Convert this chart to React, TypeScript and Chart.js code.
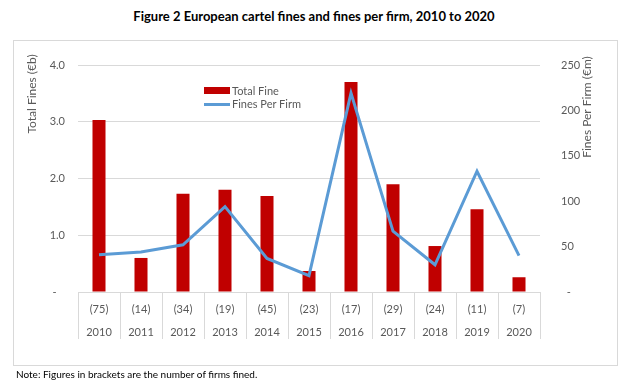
import React, { useEffect, useRef } from "react";
import { Chart, registerables } from "chart.js";

Chart.register(...registerables);

const years = ["2010", "2011", "2012", "2013", "2014", "2015", "2016", "2017", "2018", "2019", "2020"];
const firmsFined = [75, 14, 34, 19, 45, 23, 17, 29, 24, 11, 7];
const totalFines = [3.03, 0.6, 1.73, 1.8, 1.69, 0.37, 3.7, 1.9, 0.81, 1.46, 0.26];
const finesPerFirm = [41, 44, 52, 94, 37, 18, 219, 67, 30, 133, 40];

const leftTicks = { min: 0, max: 4, step: 1 };
const rightTicks = { min: 0, max: 250, step: 50 };

const TITLE = "Figure 2 European cartel fines and fines per firm, 2010 to 2020";
const NOTE = "Note: Figures in brackets are the number of firms fined.";
const LEFT_TITLE = "Total Fines (€b)";
const RIGHT_TITLE = "Fines Per Firm (€m)";
const BAR_LABEL = "Total Fine";
const LINE_LABEL = "Fines Per Firm";

const FONT = "Lato, 'Open Sans', sans-serif";
const GREY = "#595959";
const GRID = "#d9d9d9";
const RED = "#C00000";
const BLUE = "#5B9BD5";

const axisTitlePlugin = {
  id: "axisTitles",
  afterDraw(chart: any) {
    const ctx = chart.ctx;
    ctx.save();
    ctx.fillStyle = GREY;
    ctx.font = `12px ${FONT}`;
    ctx.textAlign = "center";
    ctx.textBaseline = "middle";
    ctx.save();
    ctx.translate(32, 94);
    ctx.rotate(-Math.PI / 2);
    ctx.fillText(LEFT_TITLE, 0, 0);
    ctx.restore();
    ctx.save();
    ctx.translate(587, 107);
    ctx.rotate(-Math.PI / 2);
    ctx.fillText(RIGHT_TITLE, 0, 0);
    ctx.restore();
    ctx.restore();
  },
};

export default function App() {
  const ref = useRef<HTMLCanvasElement | null>(null);

  useEffect(() => {
    if (!ref.current) return;
    const labels = years.map((y, i) => [`(${firmsFined[i]})`, y]);
    const chart = new Chart(ref.current, {
      type: "bar",
      data: {
        labels,
        datasets: [
          {
            type: "line",
            label: LINE_LABEL,
            data: finesPerFirm,
            borderColor: BLUE,
            backgroundColor: BLUE,
            borderWidth: 3,
            pointRadius: 0,
            tension: 0,
            yAxisID: "y1",
            order: 1,
          } as any,
          {
            type: "bar",
            label: BAR_LABEL,
            data: totalFines,
            backgroundColor: RED,
            borderWidth: 0,
            barPercentage: 0.31,
            categoryPercentage: 1,
            yAxisID: "y",
            order: 2,
          },
        ],
      },
      options: {
        responsive: false,
        animation: false,
        layout: { padding: { top: 65, left: 0, right: 0, bottom: 0 } },
        plugins: {
          legend: { display: false },
          tooltip: { enabled: false },
          title: { display: false },
        },
        scales: {
          x: {
            offset: true,
            grid: {
              offset: true,
              drawOnChartArea: false,
              drawTicks: true,
              tickLength: 47,
              color: GRID,
              lineWidth: 1,
            },
            border: { display: true, color: GRID },
            ticks: {
              color: GREY,
              font: { family: FONT, size: 11, lineHeight: "23px" } as any,
              padding: -41,
              maxRotation: 0,
              autoSkip: false,
            },
            afterFit: (s: any) => {
              s.height = 96;
            },
          },
          y: {
            position: "left",
            min: leftTicks.min,
            max: leftTicks.max,
            grid: { color: GRID, drawTicks: false, lineWidth: 1 },
            border: { display: false },
            ticks: {
              stepSize: leftTicks.step,
              color: GREY,
              font: { family: FONT, size: 11 },
              padding: 13,
              callback: (v: any) => (Number(v) === 0 ? "-   " : Number(v).toFixed(1)),
            },
            afterFit: (s: any) => {
              s.width = 78;
            },
          },
          y1: {
            position: "right",
            min: rightTicks.min,
            max: rightTicks.max,
            grid: { display: false },
            border: { display: false },
            ticks: {
              stepSize: rightTicks.step,
              color: GREY,
              font: { family: FONT, size: 11 },
              padding: 13,
              callback: (v: any) => (Number(v) === 0 ? "  -" : String(v)),
            },
            afterFit: (s: any) => {
              s.width = 94;
            },
          },
        },
      },
      plugins: [axisTitlePlugin],
    });
    return () => chart.destroy();
  }, []);

  return (
    <div
      style={{
        position: "fixed",
        left: 0,
        top: 0,
        width: 634,
        height: 388,
        background: "#fff",
        fontFamily: FONT,
        overflow: "hidden",
      }}
    >
      <div
        style={{
          position: "absolute",
          left: 0,
          width: 628,
          top: 8,
          textAlign: "center",
          fontWeight: 700,
          fontSize: 13,
          color: "#000",
          whiteSpace: "nowrap",
        }}
      >
        {TITLE}
      </div>
      <div
        style={{
          position: "absolute",
          left: 13,
          top: 40,
          width: 603,
          height: 324,
          border: `1px solid ${GRID}`,
        }}
      />
      <canvas ref={ref} width={634} height={388} style={{ position: "absolute", left: 0, top: 0 }} />
      <div style={{ position: "absolute", left: 204, top: 87, width: 26, height: 7, background: RED }} />
      <div
        style={{ position: "absolute", left: 232, top: 83, fontSize: 11, color: GREY, lineHeight: "16px", whiteSpace: "nowrap" }}
      >
        {BAR_LABEL}
      </div>
      <div style={{ position: "absolute", left: 204, top: 103, width: 26, height: 3, background: BLUE }} />
      <div
        style={{ position: "absolute", left: 232, top: 96, fontSize: 11, color: GREY, lineHeight: "16px", whiteSpace: "nowrap" }}
      >
        {LINE_LABEL}
      </div>
      <div
        style={{ position: "absolute", left: 16, top: 367, fontSize: 10, color: "#000", lineHeight: "14px", whiteSpace: "nowrap" }}
      >
        {NOTE}
      </div>
    </div>
  );
}
